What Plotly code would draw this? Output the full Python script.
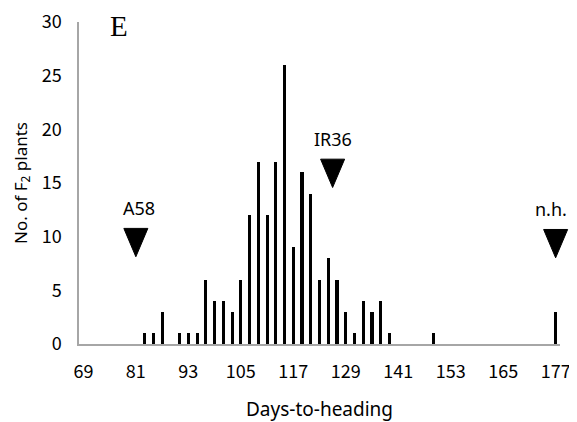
import plotly.graph_objects as go

# Data
days = [83, 85, 87, 91, 93, 95, 97, 99, 101, 103, 105, 107, 109, 111, 113, 115,
        117, 119, 121, 123, 125, 127, 129, 131, 133, 135, 137, 139, 149, 177]
counts = [1, 1, 3, 1, 1, 1, 6, 4, 4, 3, 6, 12, 17, 12, 17, 26,
          9, 16, 14, 6, 8, 6, 3, 1, 4, 3, 4, 1, 1, 3]
x_ticks = [69, 81, 93, 105, 117, 129, 141, 153, 165, 177]
y_ticks = [0, 5, 10, 15, 20, 25, 30]

marker_names = ["A58", "IR36", "n.h."]
marker_days = [81, 126, 177]
marker_levels = [9.45, 15.9, 9.35]

X_RANGE = [68, 178]
Y_RANGE = [0, 30]

# layout (page has an 8px body margin)
W, H = 569, 414
ML, MR, MT, MB = 71, 17, 14, 78
plot_w = W - ML - MR

# arrow-head geometry (style)
HW_PAPER = 12 / plot_w   # half width
HH = 1.32                # half height in count units
label_xshift = [3, 0, -5]

fig = go.Figure()
fig.add_trace(go.Bar(x=days, y=counts, width=0.7, marker=dict(color="black", line=dict(width=0)),
                     showlegend=False, hoverinfo="x+y"))

for name, d, lv, xs in zip(marker_names, marker_days, marker_levels, label_xshift):
    px = (d - X_RANGE[0]) / (X_RANGE[1] - X_RANGE[0])
    path = (f"M {px - HW_PAPER} {lv + HH} L {px + HW_PAPER} {lv + HH} "
            f"L {px} {lv - HH} Z")
    fig.add_shape(type="path", xref="paper", yref="y", path=path,
                  fillcolor="black", line=dict(color="black", width=1))
    fig.add_annotation(x=d, y=lv + HH, text=name, showarrow=False,
                       yanchor="bottom", yshift=6, xshift=xs,
                       font=dict(family="Noto Sans", size=18, color="black"))

fig.add_annotation(xref="paper", yref="paper", x=0.083, y=0.987, text="E", showarrow=False,
                   xanchor="center", yanchor="middle",
                   font=dict(family="Liberation Serif", size=29, color="black"))

fig.add_annotation(xref="paper", yref="paper", x=0.5, y=0, yshift=-65, text="Days-to-heading",
                   showarrow=False, xanchor="center", yanchor="middle",
                   font=dict(family="Noto Sans", size=19, color="black"))

fig.update_layout(
    width=W, height=H,
    margin=dict(l=ML, r=MR, t=MT, b=MB, autoexpand=False),
    plot_bgcolor="white", paper_bgcolor="white",
    bargap=0,
    xaxis=dict(range=X_RANGE, tickmode="array", tickvals=x_ticks,
               ticktext=[str(v) for v in x_ticks], automargin=False,
               ticklabeloverflow="allow",
               showgrid=False, zeroline=False, showline=True, linecolor="#a6a6a6", linewidth=1.5,
               ticks="outside", ticklen=11, tickcolor="rgba(0,0,0,0)",
               tickfont=dict(family="Noto Sans CJK JP", size=18, color="black")),
    yaxis=dict(range=Y_RANGE, tickmode="array", tickvals=y_ticks, automargin=False,
               ticklabeloverflow="allow",
               showgrid=False, zeroline=False, showline=True, linecolor="#a6a6a6", linewidth=1.5,
               ticks="outside", ticklen=12, tickcolor="rgba(0,0,0,0)",
               tickfont=dict(family="Noto Sans CJK JP", size=18, color="black"),
               title=dict(text="No. of F<sub>2</sub> plants", standoff=10,
                          font=dict(family="Noto Sans", size=17, color="black"))),
)

fig.write_html("out.html")
